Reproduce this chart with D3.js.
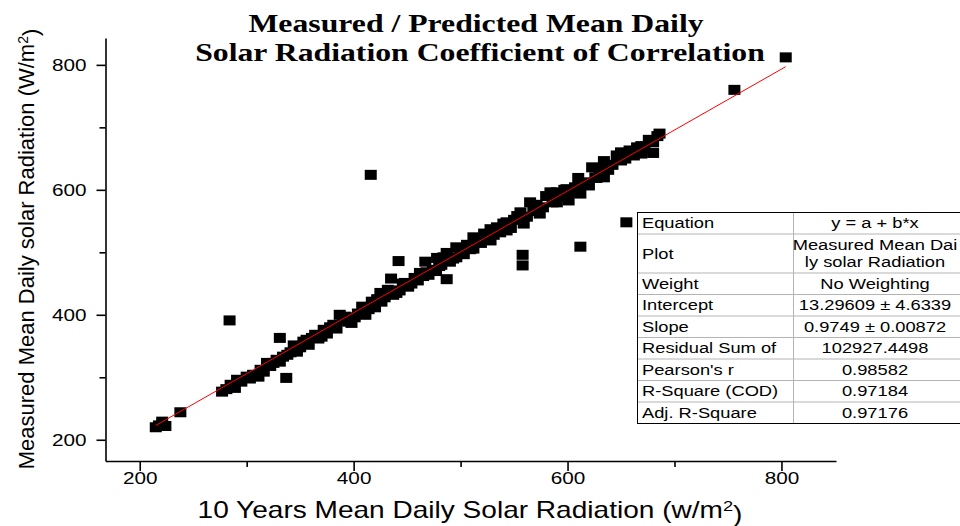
<!DOCTYPE html>
<html>
<head>
<meta charset="utf-8">
<style>
  body { margin: 0; background: #fff; }
  text { fill: #000; }
</style>
</head>
<body>
<svg id="chart"></svg>

<script src="https://cdnjs.cloudflare.com/ajax/libs/d3/7.8.5/d3.min.js"></script>
<script>

  // data: [10 years mean (x), measured mean (y)]
  var points = [
    [215,220],[218,223],[221,229],[224,222],[238,244],
    [277,277],[281,281],[285,288],[289,283],[291,296],[295,293],[300,301],[303,298],
    [306,304],[311,301],[313,312],[316,309],[319,323],[322,318],[325,323],[328,328],
    [331,325],[334,333],[338,336],[341,340],[344,351],[347,341],[350,348],
    [353,357],[356,360],[358,352],[361,363],[364,368],[367,362],[370,365],[372,376],
    [375,370],[378,380],[381,384],[384,378],[387,400],[390,392],[392,397],[395,389],
    [398,387],[401,396],[404,402],[408,413],[411,400],[414,409],[417,421],[420,412],
    [422,425],[425,435],[426,421],[429,428],[432,440],[435,458],[437,432],
    [440,435],[443,439],[446,450],[448,451],[451,445],[454,450],[457,459],[460,455],
    [462,467],[465,462],[468,468],[470,464],[474,472],[477,470],[480,478],[482,480],
    [484,492],[487,499],[490,485],[493,490],
    [496,508],[496,492],[500,500],[503,497],[506,512],[509,505],[512,524],[512,506],
    [516,518],[519,515],[522,530],[525,522],[528,537],[528,519],[531,528],[534,540],
    [537,532],[540,546],[543,548],[543,535],[547,539],[550,552],[553,558],[556,564],
    [559,546],[562,557],[565,580],[568,566],[571,576],[574,562],[577,572],[580,590],
    [584,596],[586,580],[590,580],[590,596],[594,590],[597,600],[599,601],[601,583],
    [604,596],[607,604],[610,619],[612,594],[614,608],[617,612],[620,607],[623,636],
    [626,620],[627,619],[630,632],[634,646],[634,620],[638,632],[642,640],[646,655],
    [650,660],[650,647],[654,650],[658,663],[662,655],[665,668],[669,670],[669,658],
    [672,665],[676,680],[680,676],[684,686],[686,690],
    // points off the band
    [284,391],[331,363],[337,299],[416,624],[442,486],[467,485],[478,491],[487,457],
    [558,496],[558,479],[612,509],[655,548],[680,659],[756,760],[804,812]
  ];

  var xTicks = [200, 400, 600, 800],
      xMinor = [300, 500, 700],
      yTicks = [200, 400, 600, 800],
      yMinor = [300, 500, 700];

  // linear fit from the table
  var intercept = 13.29609,
      slope     = 0.9749;

  var titleLines = ["Measured / Predicted Mean Daily", "Solar Radiation Coefficient of Correlation"];

  var tableLabels = [["Equation"], ["Plot"], ["Weight"], ["Intercept"], ["Slope"],
                     ["Residual Sum of"], ["Pearson's r"], ["R-Square (COD)"], ["Adj. R-Square"]];
  var tableValues = [["y = a + b*x"], ["Measured Mean Dai", "ly solar Radiation"], ["No Weighting"],
                     ["13.29609 \u00b1 4.6339"], ["0.9749 \u00b1 0.00872"], ["102927.4498"],
                     ["0.98582"], ["0.97184"], ["0.97176"]];

  // sizes
  var width  = 960,
      height = 526,
      sx     = 1.22,          // the picture's text is a bit wide
      sans   = "'Liberation Sans', Arial, sans-serif",
      serif  = "'Liberation Serif', 'Times New Roman', serif";

  var svg = d3.select('#chart')
              .attr('width', width)
              .attr('height', height)
              .style('display', 'block');

  var x = d3.scaleLinear().domain([168, 851]).range([105.5, 836]);
  var y = d3.scaleLinear().domain([166, 843]).range([461, 38]);

  // title
  svg.selectAll('.title')
     .data(titleLines)
     .enter().append('text')
     .attr('class', 'title')
     .attr('transform', function(d, i) { return 'translate(' + (i ? 480 : 476) + ',' + (i ? 61 : 31.5) + ') scale(' + sx + ',1)'; })
     .attr('text-anchor', 'middle')
     .style('font-family', serif)
     .style('font-weight', 'bold')
     .style('font-size', '26px')
     .text(String);

  // points
  svg.append('g').selectAll('rect')
     .data(points)
     .enter().append('rect')
     .attr('x', function(d) { return x(d[0]) - 6; })
     .attr('y', function(d) { return y(d[1]) - 5; })
     .attr('width', 12)
     .attr('height', 10)
     .attr('fill', '#000');

  // fit line
  var xr = d3.extent(points, function(d) { return d[0]; });
  svg.append('line')
     .attr('x1', x(xr[0])).attr('y1', y(intercept + slope * xr[0]))
     .attr('x2', x(xr[1])).attr('y2', y(intercept + slope * xr[1]))
     .attr('stroke', '#ff0000')
     .attr('stroke-width', 1);

  // axes
  function styleAxis(g) {
    g.selectAll('path, line').attr('stroke', '#000').attr('stroke-width', 1.6);
  }

  var gx = svg.append('g').attr('transform', 'translate(0,461)');
  gx.call(d3.axisBottom(x).tickValues(xTicks).tickSize(10).tickSizeOuter(0).tickFormat(d3.format('d')));
  gx.append('g').call(d3.axisBottom(x).tickValues(xMinor).tickSize(6).tickFormat(''))
    .select('.domain').remove();
  gx.selectAll('text')
    .attr('y', 11)
    .attr('transform', 'scale(' + sx + ',1)')
    .style('font-family', sans)
    .style('font-size', '17px')
    .attr('fill', '#000');
  styleAxis(gx);

  var gy = svg.append('g').attr('transform', 'translate(105.5,0)');
  gy.call(d3.axisLeft(y).tickValues(yTicks).tickSize(9).tickSizeOuter(0).tickFormat(d3.format('d')));
  gy.append('g').call(d3.axisLeft(y).tickValues(yMinor).tickSize(6).tickFormat(''))
    .select('.domain').remove();
  gy.selectAll('text')
    .attr('x', -19 / sx)
    .attr('transform', 'scale(' + sx + ',1)')
    .style('font-family', sans)
    .style('font-size', '17px')
    .attr('fill', '#000');
  styleAxis(gy);

  // axis titles
  var xt = svg.append('text')
              .attr('transform', 'translate(470,518) scale(' + sx + ',1)')
              .attr('text-anchor', 'middle')
              .style('font-family', sans)
              .style('font-size', '23px');
  xt.append('tspan').text('10 Years Mean Daily Solar Radiation (w/m');
  xt.append('tspan').attr('dy', '-0.45em').style('font-size', '15px').text('2');
  xt.append('tspan').attr('dy', '0.45em').text(')');

  var yt = svg.append('text')
              .attr('transform', 'translate(34,249) rotate(-90)')
              .attr('text-anchor', 'middle')
              .style('font-family', sans)
              .style('font-size', '22px');
  yt.append('tspan').text('Measured Mean Daily solar Radiation (W/m');
  yt.append('tspan').attr('dy', '-0.45em').style('font-size', '14px').text('2');
  yt.append('tspan').attr('dy', '0.45em').text(')');

  // fit table
  var tx0 = 637, tx1 = 793, tx2 = 962, ty0 = 212;
  var rowH = tableLabels.map(function(d, i) { return 4 + 17.5 * Math.max(d.length, tableValues[i].length); });
  var rowY = [ty0];
  rowH.forEach(function(h, i) { rowY.push(rowY[i] + h); });

  var table = svg.append('g');
  table.append('rect')
       .attr('x', tx0).attr('y', ty0)
       .attr('width', tx2 - tx0).attr('height', rowY[rowY.length - 1] - ty0)
       .attr('fill', '#fff');

  table.selectAll('.hl')
       .data(rowY.slice(1, -1))
       .enter().append('line')
       .attr('x1', tx0).attr('x2', tx2)
       .attr('y1', function(d) { return d + 0.5; }).attr('y2', function(d) { return d + 0.5; })
       .attr('stroke', '#b4b4b4');
  table.append('line')
       .attr('x1', tx1 + 0.5).attr('x2', tx1 + 0.5)
       .attr('y1', ty0).attr('y2', rowY[rowY.length - 1])
       .attr('stroke', '#b4b4b4');
  table.append('rect')
       .attr('x', tx0 + 0.5).attr('y', ty0 + 0.5)
       .attr('width', tx2 - tx0).attr('height', rowY[rowY.length - 1] - ty0)
       .attr('fill', 'none')
       .attr('stroke', '#000');

  function cellText(lines, i, cx, anchor) {
    var mid = rowY[i] + rowH[i] / 2,
        first = mid - (lines.length - 1) * 17.5 / 2 + 5.5;
    lines.forEach(function(s, k) {
      table.append('text')
           .attr('transform', 'translate(' + cx + ',' + (first + k * 17.5) + ') scale(' + sx + ',1)')
           .attr('text-anchor', anchor)
           .style('font-family', sans)
           .style('font-size', '15px')
           .text(s);
    });
  }
  tableLabels.forEach(function(d, i) { cellText(d, i, 642, 'start'); });
  tableValues.forEach(function(d, i) { cellText(d, i, 875, 'middle'); });

</script>
</body>
</html>
